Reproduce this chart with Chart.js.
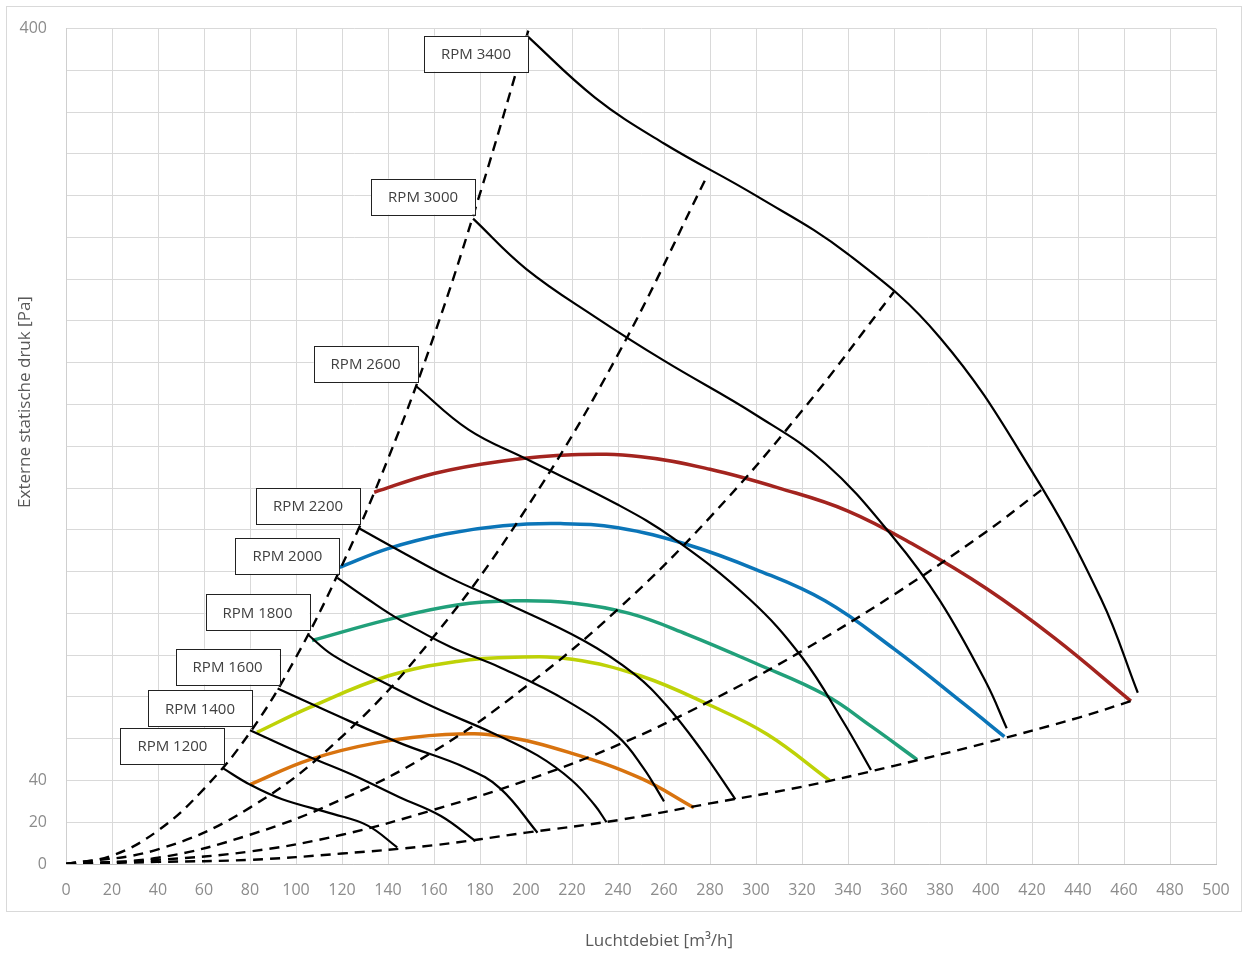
<!DOCTYPE html>
<html>
<head>
<meta charset="utf-8">
<script src="https://cdn.jsdelivr.net/npm/chart.js@4.4.1/dist/chart.umd.min.js"></script>
<style>
  html, body { margin: 0; padding: 0; background: #fff; }
  #wrap { width: 1248px; height: 958px; position: relative; }
</style>
</head>
<body>
<div id="wrap"><canvas id="chart"></canvas></div>
<script>
(function(){

    // axis ticks
    var flowMax = 500;
    var pressureMax = 400;
    var pressureLabelled = [0, 20, 40, 400];

    // fan curves per speed (black)
    var rpmLabels = ['RPM 1200', 'RPM 1400', 'RPM 1600', 'RPM 1800', 'RPM 2000', 'RPM 2200', 'RPM 2600', 'RPM 3000', 'RPM 3400'];

    var rpm1200Flow = [68, 80, 94, 116, 131, 144];
    var rpm1200Pa   = [46, 38, 31, 24, 18.5, 8];
    var rpm1400Flow = [80, 102, 124, 145, 163, 178];
    var rpm1400Pa   = [64, 53, 43, 32, 23, 11];
    var rpm1600Flow = [92, 114, 145, 174, 189, 205];
    var rpm1600Pa   = [84, 73, 58, 46, 36, 15];
    var rpm1800Flow = [105, 116, 138, 160, 185, 205, 220, 230, 235];
    var rpm1800Pa   = [110, 100, 87, 75, 63, 52, 40, 28, 20];
    var rpm2000Flow = [118, 131, 145, 167, 189, 218, 240, 251, 260];
    var rpm2000Pa   = [137, 127, 117, 104, 94, 78, 61, 46, 30];
    var rpm2200Flow = [127, 145, 167, 189, 225, 247, 261, 276, 291];
    var rpm2200Pa   = [161, 150, 137, 126, 107, 91, 76, 55, 31];
    var rpm2600Flow = [152, 175, 200, 240, 264, 297, 320, 338, 350];
    var rpm2600Pa   = [229, 208, 194, 172, 156, 127, 99, 68, 45];
    var rpm3000Flow = [177, 200, 230, 260, 300, 330, 360, 380, 400, 409];
    var rpm3000Pa   = [309, 285, 262, 241, 215, 192, 156, 126, 87, 65];
    var rpm3400Flow = [200, 230, 260, 300, 340, 380, 420, 450, 466];
    var rpm3400Pa   = [397, 367, 345, 320, 292, 252, 188, 127, 82];

    // coloured curves
    var redFlow    = [134, 160, 190, 220, 250, 280, 310, 340, 370, 400, 430, 463];
    var redPa      = [178, 187, 193, 196, 195, 189, 180, 169, 152, 132, 108, 78];
    var blueFlow   = [119, 140, 165, 190, 215, 240, 270, 300, 330, 360, 390, 408];
    var bluePa     = [142, 151, 158, 162, 163, 161, 153, 141, 126, 103, 77, 61];
    var greenFlow  = [107, 140, 170, 195, 220, 245, 270, 300, 330, 350, 370];
    var greenPa    = [107, 117, 124, 126, 125, 120, 110, 96, 81, 66, 50];
    var yellowFlow = [83, 106, 140, 170, 195, 220, 250, 280, 305, 332];
    var yellowPa   = [63, 75, 90, 97, 99, 98, 90, 76, 62, 40];
    var orangeFlow = [80, 106, 135, 165, 190, 220, 250, 273];
    var orangePa   = [38, 50, 58, 62, 61, 53, 41, 27];

    // system curves (dashed)
    var sys1Flow = [0, 20, 40, 60, 80, 100, 120, 140, 160, 180, 201];
    var sys1Pa   = [0, 4, 16, 36, 63, 99, 143, 194, 253, 321, 399];
    var sys2Flow = [0, 40, 80, 120, 160, 200, 240, 279];
    var sys2Pa   = [0, 7, 27, 61, 109, 170, 244, 330];
    var sys3Flow = [0, 40, 80, 120, 160, 200, 240, 280, 320, 360];
    var sys3Pa   = [0, 3, 14, 31, 54, 85, 122, 166, 217, 274];
    var sys4Flow = [0, 40, 80, 120, 160, 200, 240, 280, 320, 360, 400, 424];
    var sys4Pa   = [0, 2, 6, 14, 26, 40, 57, 78, 102, 129, 159, 179];
    var sys5Flow = [0, 40, 80, 120, 160, 200, 240, 280, 320, 360, 400, 440, 463];
    var sys5Pa   = [0, 1, 2, 5, 9, 15, 21, 29, 37, 47, 58, 70, 78];

    var FONT = '"Open Sans", "Noto Sans", sans-serif';

    function _points(xs, ys){
        var out = [];
        for(let i = 0; i < xs.length; i++){
            out.push({x: xs[i], y: ys[i]});
        }
        return out;
    }

    function _line(xs, ys, color, width, dash){
        return {
            data: _points(xs, ys),
            borderColor: color,
            borderWidth: width,
            borderDash: dash || [],
            pointRadius: 0,
            fill: false,
            showLine: true,
            tension: 0.4
        };
    }

    function _buildDatasets(){
        let sets = [];
        let sysDash = [10, 7];
        sets.push(_line(sys1Flow, sys1Pa, '#000', 2.4, sysDash));
        sets.push(_line(sys2Flow, sys2Pa, '#000', 2.4, sysDash));
        sets.push(_line(sys3Flow, sys3Pa, '#000', 2.4, sysDash));
        sets.push(_line(sys4Flow, sys4Pa, '#000', 2.4, sysDash));
        sets.push(_line(sys5Flow, sys5Pa, '#000', 2.4, sysDash));

        let rpmFlows = [rpm1200Flow, rpm1400Flow, rpm1600Flow, rpm1800Flow, rpm2000Flow, rpm2200Flow, rpm2600Flow, rpm3000Flow, rpm3400Flow];
        let rpmPas = [rpm1200Pa, rpm1400Pa, rpm1600Pa, rpm1800Pa, rpm2000Pa, rpm2200Pa, rpm2600Pa, rpm3000Pa, rpm3400Pa];
        for(let i = 0; i < rpmLabels.length; i++){
            let ds = _line(rpmFlows[i], rpmPas[i], '#000', 2.2);
            ds.rpmLabel = rpmLabels[i];
            sets.push(ds);
        }

        sets.push(_line(orangeFlow, orangePa, '#d8730f', 3.5));
        sets.push(_line(yellowFlow, yellowPa, '#bed207', 3.5));
        sets.push(_line(greenFlow, greenPa, '#21a07a', 3.5));
        sets.push(_line(blueFlow, bluePa, '#0b75b8', 3.5));
        sets.push(_line(redFlow, redPa, '#a3241f', 3.5));
        return sets;
    }

    var framePlugin = {
        id: 'frame',
        beforeDraw: function(chart){
            let ctx = chart.ctx;
            ctx.save();
            ctx.fillStyle = '#fff';
            ctx.fillRect(0, 0, chart.width, chart.height);
            ctx.strokeStyle = '#d9d9d9';
            ctx.lineWidth = 1;
            ctx.strokeRect(6.5, 6.5, 1235, 905);
            ctx.restore();
        },
        afterDraw: function(chart){
            let ctx = chart.ctx;
            ctx.save();
            ctx.fillStyle = '#595959';
            ctx.font = '17px ' + FONT;
            ctx.textAlign = 'center';
            ctx.textBaseline = 'middle';
            ctx.fillText('Luchtdebiet [m\u00b3/h]', 659, 941);
            ctx.translate(25, 402);
            ctx.rotate(-Math.PI / 2);
            ctx.fillText('Externe statische druk [Pa]', 0, 0);
            ctx.restore();
        }
    };

    var rpmBoxPlugin = {
        id: 'rpmBoxes',
        afterDatasetsDraw: function(chart){
            let ctx = chart.ctx;
            let xs = chart.scales.x, ys = chart.scales.y;
            ctx.save();
            chart.data.datasets.forEach(function(ds){
                if(!ds.rpmLabel) return;
                let p = ds.data[0];
                let px = xs.getPixelForValue(p.x);
                let py = ys.getPixelForValue(p.y);
                let w = 104, h = 36;
                let right = px + 2;
                let top = py - 4 - h;
                if(top < chart.chartArea.top + 7) top = chart.chartArea.top + 7;
                let left = right - w;
                ctx.fillStyle = '#fff';
                ctx.fillRect(left, top, w, h);
                ctx.strokeStyle = '#222';
                ctx.lineWidth = 1;
                ctx.strokeRect(Math.round(left) + 0.5, Math.round(top) + 0.5, w, h);
                ctx.fillStyle = '#404040';
                ctx.font = '15px ' + FONT;
                ctx.textAlign = 'center';
                ctx.textBaseline = 'middle';
                ctx.fillText(ds.rpmLabel, left + w / 2, top + h / 2 + 1);
            });
            ctx.restore();
        }
    };

    function _drawChart(){
        new Chart(document.getElementById('chart').getContext('2d'), {
            type: 'scatter',
            data: { datasets: _buildDatasets() },
            options: {
                responsive: true,
                maintainAspectRatio: false,
                animation: false,
                devicePixelRatio: 1,
                layout: { padding: { top: 26, right: 32, left: 0, bottom: 0 } },
                plugins: {
                    legend: { display: false },
                    tooltip: { enabled: false }
                },
                scales: {
                    x: {
                        type: 'linear',
                        min: 0,
                        max: flowMax,
                        grid: { color: '#d9d9d9', drawTicks: false },
                        border: { color: '#bfbfbf' },
                        ticks: {
                            stepSize: 20,
                            autoSkip: false,
                            maxRotation: 0,
                            padding: 17,
                            color: '#8c8c8c',
                            font: { family: FONT, size: 16 }
                        },
                        afterFit: function(s){ s.height = 94; }
                    },
                    y: {
                        type: 'linear',
                        min: 0,
                        max: pressureMax,
                        grid: { color: '#d9d9d9', drawTicks: false },
                        border: { color: '#cfcfcf' },
                        ticks: {
                            stepSize: 20,
                            autoSkip: false,
                            padding: 19,
                            color: '#8c8c8c',
                            font: { family: FONT, size: 16 },
                            callback: function(v){ return pressureLabelled.indexOf(v) >= 0 ? v : ''; }
                        },
                        afterFit: function(s){ s.width = 66; }
                    }
                }
            },
            plugins: [framePlugin, rpmBoxPlugin]
        });
    }

    window.onload = function(){
        _drawChart();
    };

})();
</script>
</body>
</html>
